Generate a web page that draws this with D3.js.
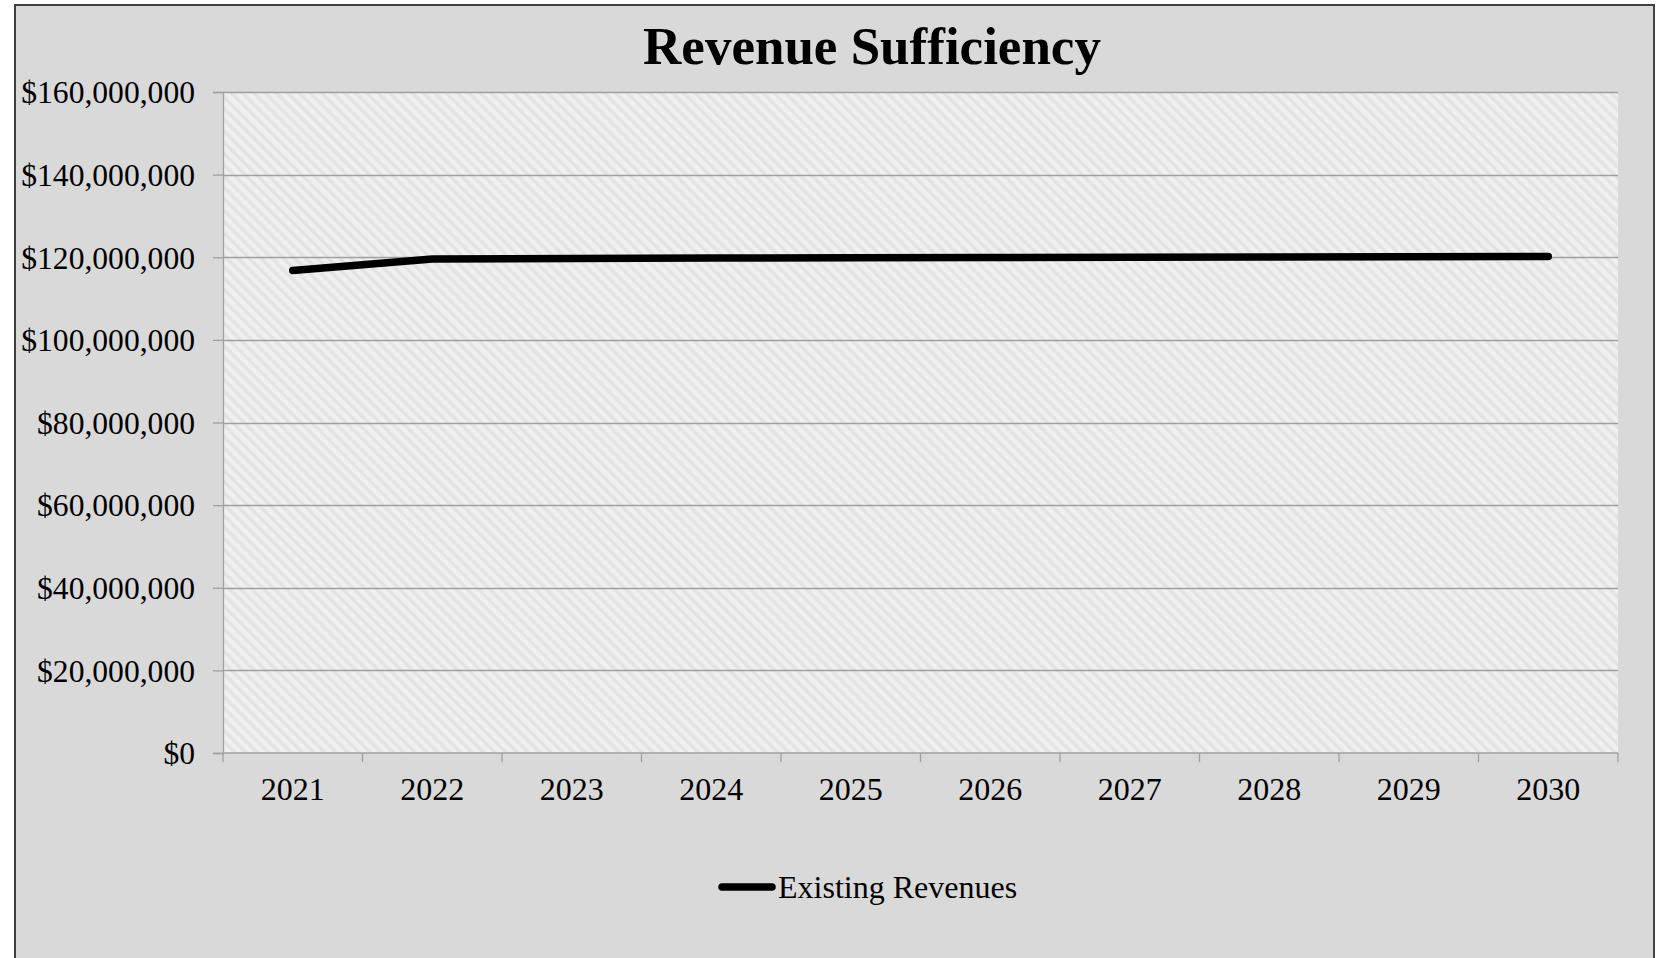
<!DOCTYPE html>
<html>
<head>
<meta charset="utf-8">
<script src="https://cdn.jsdelivr.net/npm/d3@7"></script>
<style>
  html, body { margin: 0; padding: 0; background: #ffffff; }
  svg { display: block; }
  text { font-family: "Liberation Serif", "Times New Roman", serif; fill: #000; }
</style>
</head>
<body>
<svg id="chart" width="1665" height="958"></svg>
<script>
// Chart data
const years = ["2021", "2022", "2023", "2024", "2025", "2026", "2027", "2028", "2029", "2030"];
const existingRevenues = [116800000, 119600000, 119700000, 119800000, 119900000, 119950000, 120000000, 120050000, 120100000, 120200000];
const yTicks = [0, 20000000, 40000000, 60000000, 80000000, 100000000, 120000000, 140000000, 160000000];
const seriesName = "Existing Revenues";
const chartTitle = "Revenue Sufficiency";

const svg = d3.select("#chart");
const W = 1665, H = 958;
const plot = { left: 223, top: 92, right: 1618, bottom: 753 };

// Outer chart frame
svg.append("rect")
  .attr("x", 15).attr("y", 5)
  .attr("width", 1639).attr("height", H + 10)
  .attr("fill", "#d9d9d9")
  .attr("stroke", "#404040").attr("stroke-width", 2);

// Diagonal hatch fill for the plot area (stripes running top-left to bottom-right)
const defs = svg.append("defs");
const pat = defs.append("pattern")
  .attr("id", "hatch")
  .attr("patternUnits", "userSpaceOnUse")
  .attr("width", 8).attr("height", 8)
  .attr("patternTransform", "rotate(-45)");
pat.append("rect").attr("width", 8).attr("height", 8).attr("fill", "#f0f0f0");
pat.append("rect").attr("x", 0).attr("width", 3.5).attr("height", 8).attr("fill", "#e3e3e3");

svg.append("rect")
  .attr("x", plot.left).attr("y", plot.top)
  .attr("width", plot.right - plot.left).attr("height", plot.bottom - plot.top)
  .attr("fill", "url(#hatch)");

// Scales
const x = d3.scaleBand().domain(years).range([plot.left, plot.right]).padding(0);
const y = d3.scaleLinear().domain([0, 160000000]).range([plot.bottom, plot.top]);

// Gridlines
svg.append("g")
  .selectAll("line")
  .data(yTicks.filter(d => d > 0))
  .join("line")
  .attr("x1", plot.left).attr("x2", plot.right)
  .attr("y1", d => Math.round(y(d)) + 0.5).attr("y2", d => Math.round(y(d)) + 0.5)
  .attr("stroke", "#a0a0a0").attr("stroke-width", 1.3);

// Y axis
const fmt = d => "$" + d3.format(",")(d);
const yAxis = svg.append("g")
  .attr("transform", `translate(${plot.left},0)`)
  .call(d3.axisLeft(y).tickValues(yTicks).tickFormat(fmt).tickSize(10).tickPadding(18));
yAxis.select(".domain").attr("stroke", "#a0a0a0").attr("stroke-width", 1.3);
yAxis.selectAll(".tick line").attr("stroke", "#a0a0a0").attr("stroke-width", 1.3);
yAxis.selectAll(".tick text")
  .attr("font-family", "Liberation Serif, Times New Roman, serif")
  .attr("font-size", 31.6).attr("fill", "#000").attr("dy", "0.34em");

// X axis with ticks on category boundaries
const xAxisG = svg.append("g").attr("transform", `translate(0,${plot.bottom})`);
xAxisG.append("line")
  .attr("x1", plot.left).attr("x2", plot.right)
  .attr("y1", 0).attr("y2", 0)
  .attr("stroke", "#a0a0a0").attr("stroke-width", 1.3);
const boundaries = years.map(d => x(d)).concat([x(years[years.length - 1]) + x.bandwidth()]);
xAxisG.selectAll("line.tk")
  .data(boundaries)
  .join("line").attr("class", "tk")
  .attr("x1", d => d).attr("x2", d => d)
  .attr("y1", 0).attr("y2", 9)
  .attr("stroke", "#a0a0a0").attr("stroke-width", 1.3);
xAxisG.selectAll("text")
  .data(years)
  .join("text")
  .attr("x", d => x(d) + x.bandwidth() / 2)
  .attr("y", 47)
  .attr("text-anchor", "middle")
  .attr("font-size", 32)
  .text(d => d);

// Series line
const line = d3.line()
  .x((d, i) => x(years[i]) + x.bandwidth() / 2)
  .y(d => y(d));
svg.append("path")
  .datum(existingRevenues)
  .attr("d", line)
  .attr("fill", "none")
  .attr("stroke", "#000")
  .attr("stroke-width", 7.5)
  .attr("stroke-linecap", "round")
  .attr("stroke-linejoin", "round");

// Title
svg.append("text")
  .attr("x", 872).attr("y", 64)
  .attr("text-anchor", "middle")
  .attr("font-size", 53)
  .attr("font-weight", "bold")
  .text(chartTitle);

// Legend
const lg = svg.append("g");
lg.append("line")
  .attr("x1", 722).attr("x2", 772)
  .attr("y1", 887).attr("y2", 887)
  .attr("stroke", "#000").attr("stroke-width", 7.5)
  .attr("stroke-linecap", "round");
lg.append("text")
  .attr("x", 778).attr("y", 898)
  .attr("font-size", 32)
  .text(seriesName);
</script>
</body>
</html>
